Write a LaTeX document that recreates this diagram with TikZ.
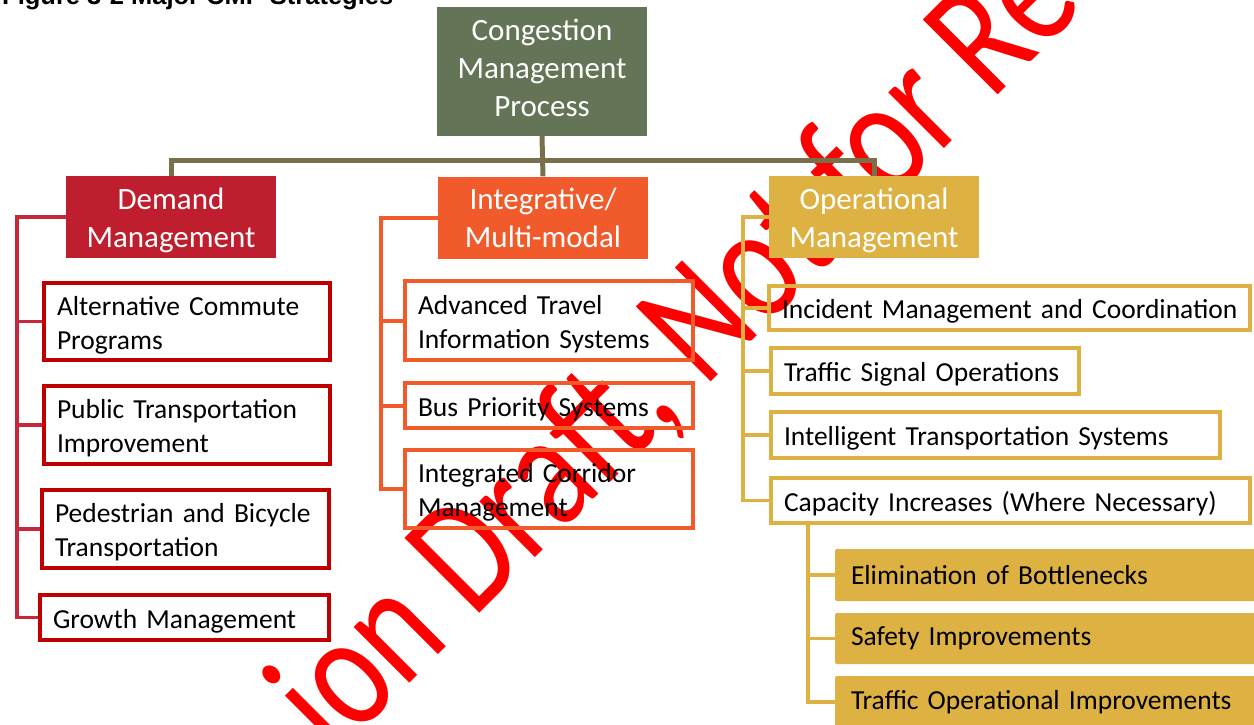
\documentclass[tikz,border=0pt]{standalone}
\usepackage{fontspec}
\setmainfont{Carlito}
\newfontfamily\titlefont{Liberation Sans}
\usepackage{graphicx}
\definecolor{cmpgreen}{RGB}{99,117,86}
\definecolor{topline}{RGB}{120,112,76}
\definecolor{dmred}{RGB}{190,30,45}
\definecolor{dmline}{RGB}{197,40,58}
\definecolor{dmborder}{RGB}{192,0,0}
\definecolor{imorange}{RGB}{241,90,43}
\definecolor{omgold}{RGB}{221,178,67}
\definecolor{wmred}{RGB}{255,0,0}
\newcommand\chstrut{\rule{0pt}{26pt}}
\newcommand\hdstrut{\rule{0pt}{28pt}}
\newcommand\lowstrut{\rule[-8pt]{0pt}{8pt}}
\tikzset{
  x=1pt, y=-1pt,
  headbox/.style={rectangle, inner sep=0pt, minimum width=210pt, minimum height=82pt,
    text=white, align=center, font=\fontsize{31}{38}\selectfont},
  childbox/.style={rectangle, line width=4pt, inner xsep=13pt, inner ysep=0pt,
    align=left, text=black, font=\fontsize{27.5}{34}\selectfont},
  dchild/.style={childbox, draw=dmborder},
  ichild/.style={childbox, draw=imorange},
  ochild/.style={childbox, draw=omgold},
  schild/.style={rectangle, rounded corners=2pt, fill=omgold, inner xsep=16pt, inner ysep=0pt,
    align=left, text=black, font=\fontsize{27.5}{34}\selectfont},
  topln/.style={draw=topline, line width=5pt},
  dln/.style={draw=dmline, line width=3.5pt},
  iln/.style={draw=imorange, line width=4pt},
  oln/.style={draw=omgold, line width=3.5pt},
  watermark/.style={rotate=45, anchor=base west, inner sep=0pt, text=wmred,
    font=\fontsize{165}{165}\selectfont},
}
\begin{document}
\begin{tikzpicture}
\useasboundingbox (0,0) rectangle (1254,724);
\clip (0,0) rectangle (1254,724);
\fill[white] (0,0) rectangle (1254,724);

% watermark (behind the diagram)
\node[watermark] (wm) at (334,759) {\scalebox{0.79}[1]{ion Draft, Not for Re}};

% title (cut at top)
\node[anchor=base west, inner sep=0pt, font=\titlefont\bfseries\fontsize{25.5}{30}\selectfont] (title) at (2,4) {Figure 3-2 Major CMP Strategies};

% top
\node[headbox, fill=cmpgreen, minimum height=129pt] (cmp) at (542,71.5) {Congestion\\Management\\Process\lowstrut};
\node[headbox, fill=dmred] (dm) at (171,217) {\hdstrut Demand\\Management};
\node[headbox, fill=imorange] (im) at (543,217.5) {Integrative/\\Multi-modal};
\node[headbox, fill=omgold] (om) at (874,217) {\hdstrut Operational\\Management};

\coordinate (hub) at (542,160);
\draw[topln] (cmp.south) -- (im.north);
\draw[topln] (dm.north) |- (hub) -| (om.north);

% demand children
\node[dchild, text width=260pt, minimum height=77pt] (d1) at (187,321.5) {\chstrut Alternative Commute\\Programs};
\node[dchild, text width=260pt, minimum height=78pt] (d2) at (187,425) {\chstrut Public Transportation\\Improvement};
\node[dchild, text width=261pt, minimum height=78pt] (d3) at (185.5,529) {\chstrut Pedestrian and Bicycle\\Transportation};
\node[dchild, text width=263pt, minimum height=45pt] (d4) at (184.5,617.5) {\chstrut Growth Management};
\coordinate (dbus) at (17,0);
\draw[dln] (dm.west) -- (dm.west -| dbus) |- (d4.west);
\draw[dln] (d1.west -| dbus) -- (d1.west);
\draw[dln] (d2.west -| dbus) -- (d2.west);
\draw[dln] (d3.west -| dbus) -- (d3.west);

% integrative children
\node[ichild, text width=262pt, minimum height=79pt] (i1) at (549,320.5) {\chstrut Advanced Travel\\Information Systems};
\node[ichild, text width=262pt, minimum height=45pt] (i2) at (549,405.5) {\chstrut Bus Priority Systems};
\node[ichild, text width=262pt, minimum height=78pt] (i3) at (549,489) {\chstrut Integrated Corridor\\Management};
\coordinate (ibus) at (381,0);
\draw[iln] (im.west) -- (im.west -| ibus) |- (i3.west);
\draw[iln] (i1.west -| ibus) -- (i1.west);
\draw[iln] (i2.west -| ibus) -- (i2.west);

% operational children
\node[ochild, text width=455pt, minimum height=44pt] (o1) at (1009.5,308) {\chstrut\mbox{Incident Management and Coordination}};
\node[ochild, text width=282pt, minimum height=46pt] (o2) at (925,371) {\chstrut Traffic Signal Operations};
\node[ochild, text width=423pt, minimum height=46pt] (o3) at (995.5,435) {\chstrut Intelligent Transportation Systems};
\node[ochild, text width=453pt, minimum height=45pt] (o4) at (1010.5,500.5) {\chstrut\mbox{Capacity Increases (Where Necessary)}};
\coordinate (obus) at (743,0);
\draw[oln] (om.west) -- (om.west -| obus) |- (o4.west);
\draw[oln] (o1.west -| obus) -- (o1.west);
\draw[oln] (o2.west -| obus) -- (o2.west);
\draw[oln] (o3.west -| obus) -- (o3.west);

% capacity sub-children
\node[schild, text width=398pt, minimum height=52pt] (s1) at (1050,575) {Elimination of Bottlenecks};
\node[schild, text width=398pt, minimum height=51pt] (s2) at (1050,638.5) {Safety Improvements};
\node[schild, text width=398pt, minimum height=52pt] (s3) at (1050,702) {Traffic Operational Improvements};
\coordinate (cbus) at (808,0);
\draw[oln] (o4.south -| cbus) |- (s3.west);
\draw[oln] (s1.west -| cbus) -- (s1.west);
\draw[oln] (s2.west -| cbus) -- (s2.west);
\end{tikzpicture}
\end{document}
